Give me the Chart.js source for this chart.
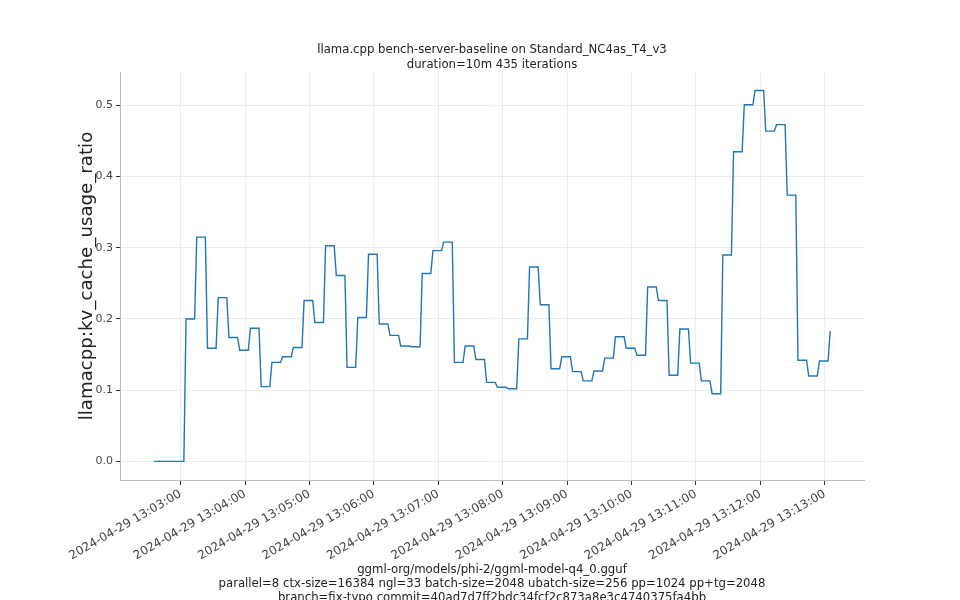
<!DOCTYPE html>
<html>
<head>
<meta charset="utf-8">
<script src="https://cdn.jsdelivr.net/npm/chart.js@4.4.1/dist/chart.umd.min.js"></script>
<style>
  html, body { margin: 0; padding: 0; background: #fff; }
  #wrap { width: 960px; height: 600px; }
</style>
</head>
<body>
<div id="wrap"><canvas id="chart" width="960" height="600"></canvas></div>
<script>
// seconds relative to 2024-04-29 13:03:00
const tickSeconds = [0, 60, 120, 180, 240, 300, 360, 420, 480, 540, 600];
const tickLabels = [
    '2024-04-29 13:03:00', '2024-04-29 13:04:00', '2024-04-29 13:05:00',
    '2024-04-29 13:06:00', '2024-04-29 13:07:00', '2024-04-29 13:08:00',
    '2024-04-29 13:09:00', '2024-04-29 13:10:00', '2024-04-29 13:11:00',
    '2024-04-29 13:12:00', '2024-04-29 13:13:00'
];
const yTicks = [0.0, 0.1, 0.2, 0.3, 0.4, 0.5];

// one sample every 10 s, first one at 13:02:35
const firstSample = -25;
const samplePeriod = 10;
const kvCacheUsage = [
    0.000, 0.000, 0.000,
    0.200, 0.315, 0.159, 0.230, 0.174, 0.156, 0.187, 0.105, 0.139, 0.147,
    0.160, 0.226, 0.195, 0.303, 0.261, 0.132, 0.202, 0.291, 0.193, 0.177,
    0.162, 0.161, 0.264, 0.296, 0.308, 0.139, 0.162, 0.143, 0.111, 0.104,
    0.102, 0.172, 0.273, 0.220, 0.130, 0.147, 0.126, 0.113, 0.127, 0.145,
    0.175, 0.159, 0.149, 0.245, 0.226, 0.121, 0.186, 0.138, 0.113, 0.095,
    0.290, 0.435, 0.501, 0.521, 0.464, 0.473, 0.374, 0.142, 0.120, 0.141,
    0.183
];

const titleLines = [
    'llama.cpp bench-server-baseline on Standard_NC4as_T4_v3',
    'duration=10m 435 iterations'
];
const footerLines = [
    'ggml-org/models/phi-2/ggml-model-q4_0.gguf',
    'parallel=8 ctx-size=16384 ngl=33 batch-size=2048 ubatch-size=256 pp=1024 pp+tg=2048',
    'branch=fix-typo commit=40ad7d7ff2bdc34fcf2c873a8e3c4740375fa4bb'
];

// each value is held until shortly before the next sample
const holdSeconds = 8;
const points = [];
kvCacheUsage.forEach(function(v, i) {
    const t = firstSample + i * samplePeriod;
    points.push({x: t, y: v});
    if (i < kvCacheUsage.length - 1) points.push({x: t + holdSeconds, y: v});
});

const FONT = "'DejaVu Sans', sans-serif";
const gridColor = '#ebebeb';
const spineColor = '#bcbcbc';
const tickColor = '#444';

new Chart(document.getElementById('chart'), {
    type: 'line',
    data: {
        datasets: [{
            data: points,
            borderColor: '#1f77b4',
            borderWidth: 1.4,
            pointRadius: 0,
            tension: 0,
            fill: false
        }]
    },
    options: {
        responsive: false,
        animation: false,
        layout: { padding: { left: 0, right: 96, top: 0, bottom: 0 } },
        plugins: {
            legend: { display: false },
            tooltip: { enabled: false },
            title: {
                display: true,
                text: titleLines,
                fullSize: false,
                color: '#222',
                font: { family: FONT, size: 11.7, weight: 'normal', lineHeight: '15px' },
                padding: { top: 42, bottom: 0 }
            }
        },
        scales: {
            x: {
                type: 'linear',
                min: -56.5,
                max: 636.5,
                afterBuildTicks: function(scale) {
                    scale.ticks = tickSeconds.map(function(v) { return {value: v}; });
                },
                afterFit: function(scale) { scale.height = 120; },
                ticks: {
                    autoSkip: false,
                    minRotation: 30,
                    maxRotation: 30,
                    padding: 2,
                    color: tickColor,
                    font: { family: FONT, size: 12 },
                    callback: function(value) {
                        return tickLabels[tickSeconds.indexOf(value)];
                    }
                },
                grid: { color: gridColor, tickColor: '#333', tickLength: 5 },
                border: { color: spineColor },
                title: {
                    display: true,
                    text: footerLines,
                    color: '#222',
                    font: { family: FONT, size: 11.7, lineHeight: '14px' },
                    padding: { top: 0, bottom: -5 }
                }
            },
            y: {
                type: 'linear',
                min: -0.0262,
                max: 0.547,
                afterBuildTicks: function(scale) {
                    scale.ticks = yTicks.map(function(v) { return {value: v}; });
                },
                afterFit: function(scale) { scale.width = 120; },
                ticks: {
                    padding: 3,
                    color: tickColor,
                    font: { family: FONT, size: 11 },
                    callback: function(value) { return value.toFixed(1); }
                },
                grid: { color: gridColor, tickColor: '#333', tickLength: 4 },
                border: { color: spineColor },
                title: {
                    display: true,
                    text: 'llamacpp:kv_cache_usage_ratio',
                    color: '#222',
                    font: { family: FONT, size: 18.2 },
                    padding: { top: 76, bottom: 0 }
                }
            }
        }
    }
});
</script>
</body>
</html>
